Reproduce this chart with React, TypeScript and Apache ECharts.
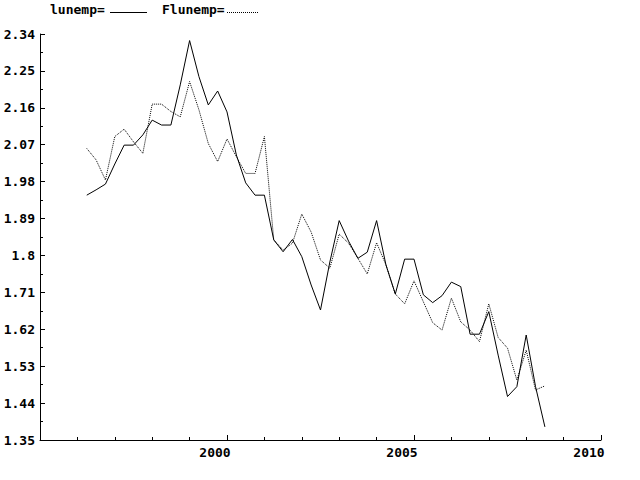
import React, { useEffect, useRef } from "react";
import * as echarts from "echarts";

const periods = [
  "1996:2", "1996:3", "1996:4",
  "1997:1", "1997:2", "1997:3", "1997:4",
  "1998:1", "1998:2", "1998:3", "1998:4",
  "1999:1", "1999:2", "1999:3", "1999:4",
  "2000:1", "2000:2", "2000:3", "2000:4",
  "2001:1", "2001:2", "2001:3", "2001:4",
  "2002:1", "2002:2", "2002:3", "2002:4",
  "2003:1", "2003:2", "2003:3", "2003:4",
  "2004:1", "2004:2", "2004:3", "2004:4",
  "2005:1", "2005:2", "2005:3", "2005:4",
  "2006:1", "2006:2", "2006:3", "2006:4",
  "2007:1", "2007:2", "2007:3", "2007:4",
  "2008:1", "2008:2", "2008:3",
];

const lunemp = [
  1.947, 1.960, 1.974,
  2.023, 2.069, 2.069, 2.094,
  2.130, 2.118, 2.118, 2.216,
  2.324, 2.236, 2.167, 2.201,
  2.150, 2.045, 1.977, 1.947,
  1.947, 1.838, 1.809, 1.839,
  1.797, 1.728, 1.667, 1.784,
  1.885, 1.835, 1.793, 1.808,
  1.885, 1.777, 1.706, 1.791,
  1.791, 1.704, 1.685, 1.702,
  1.735, 1.724, 1.608, 1.608,
  1.663, 1.557, 1.456, 1.480,
  1.606, 1.480, 1.382,
];

const flunemp = [
  2.061, 2.033, 1.984,
  2.090, 2.108, 2.077, 2.049,
  2.169, 2.169, 2.151, 2.138,
  2.224, 2.155, 2.073, 2.029,
  2.084, 2.041, 2.000, 2.000,
  2.090, 1.838, 1.813, 1.830,
  1.901, 1.857, 1.789, 1.769,
  1.852, 1.830, 1.793, 1.755,
  1.831, 1.777, 1.706, 1.682,
  1.738, 1.687, 1.636, 1.618,
  1.696, 1.638, 1.618, 1.590,
  1.682, 1.600, 1.574, 1.496,
  1.569, 1.472, 1.482,
];

const yTicks = { min: 1.35, max: 2.34, step: 0.09 };
const xTicks = { min: 1995, max: 2010, step: 5 };

const FONT = "DejaVu Sans Mono";

function toTime(p: string): number {
  const [y, q] = p.split(":").map(Number);
  return y + (q - 1) / 4;
}

export default function App() {
  const ref = useRef<HTMLDivElement>(null);
  useEffect(() => {
    if (!ref.current) return;
    const chart = echarts.init(ref.current, null, { renderer: "svg" });
    const solidData = periods.map((p, i) => [toTime(p), lunemp[i]]);
    const dottedData = periods.map((p, i) => [toTime(p), flunemp[i]]);
    const labelStyle = {
      color: "#000",
      fontFamily: FONT,
      fontWeight: "bold" as const,
      fontSize: 13,
    };
    chart.setOption({
      animation: false,
      backgroundColor: "#fff",
      grid: { left: 40, right: 39, top: 34, bottom: 40, containLabel: false },
      xAxis: {
        type: "value",
        min: xTicks.min,
        max: xTicks.max,
        interval: xTicks.step,
        axisLine: { show: true, lineStyle: { color: "#000", width: 1 } },
        axisTick: { show: true, inside: true, length: 5, lineStyle: { color: "#000" } },
        minorTick: { show: true, splitNumber: 5, length: 3, lineStyle: { color: "#000" } },
        splitLine: { show: false },
        axisLabel: {
          ...labelStyle,
          margin: 6,
          padding: [0, 24, 0, 0],
          formatter: (v: number) => (v === xTicks.min ? "" : String(v)),
        },
      },
      yAxis: {
        type: "value",
        min: yTicks.min,
        max: yTicks.max,
        interval: yTicks.step,
        axisLine: { show: true, lineStyle: { color: "#000", width: 1 } },
        axisTick: { show: true, inside: true, length: 5, lineStyle: { color: "#000" } },
        minorTick: { show: true, splitNumber: 2, length: 3, lineStyle: { color: "#000" } },
        splitLine: { show: false },
        axisLabel: {
          ...labelStyle,
          margin: 5,
          formatter: (v: number) => String(parseFloat(v.toFixed(2))),
        },
      },
      series: [
        {
          name: "lunemp",
          type: "line",
          data: solidData,
          symbol: "none",
          lineStyle: { color: "#000", width: 1, type: "solid" },
        },
        {
          name: "Flunemp",
          type: "line",
          data: dottedData,
          symbol: "none",
          lineStyle: { color: "#000", width: 1, type: [1, 1] },
        },
      ],
      graphic: [
        {
          type: "text",
          left: 50,
          top: 3,
          style: { text: "lunemp=", fill: "#000", font: `bold 13px "${FONT}"` },
        },
        {
          type: "line",
          shape: { x1: 110, y1: 12.5, x2: 147, y2: 12.5 },
          style: { stroke: "#000", lineWidth: 1 },
        },
        {
          type: "text",
          left: 162,
          top: 3,
          style: { text: "Flunemp=", fill: "#000", font: `bold 13px "${FONT}"` },
        },
        {
          type: "line",
          shape: { x1: 227, y1: 12.5, x2: 258, y2: 12.5 },
          style: { stroke: "#000", lineWidth: 1, lineDash: [1, 1] },
        },
      ],
    });
    return () => chart.dispose();
  }, []);
  return <div ref={ref} style={{ width: 640, height: 480, position: "absolute", left: 0, top: 0 }} />;
}
